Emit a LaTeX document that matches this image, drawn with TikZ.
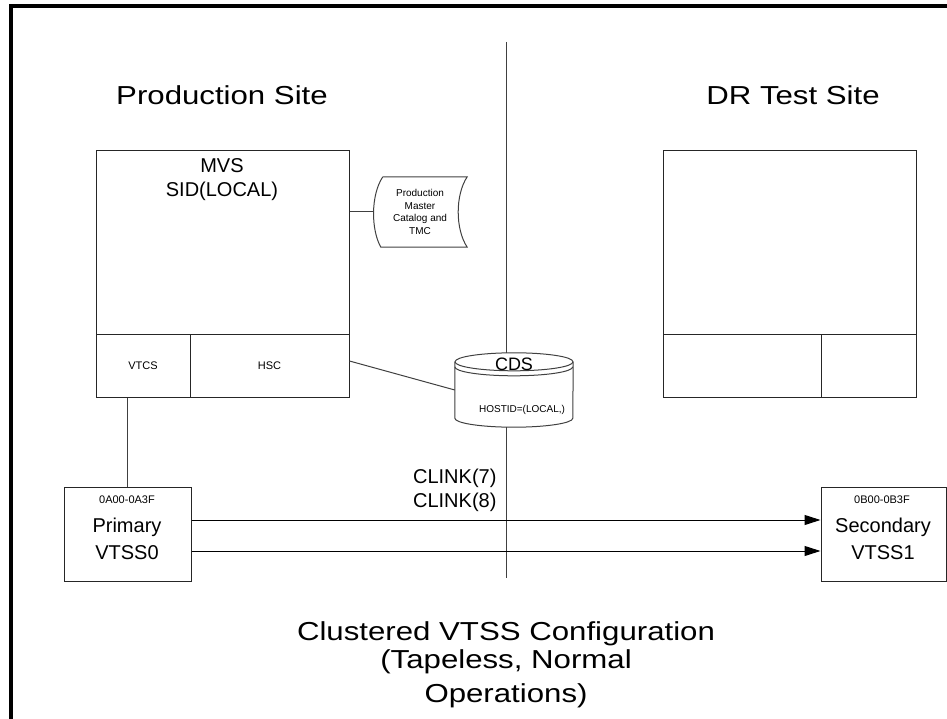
\documentclass[tikz,border=0pt]{standalone}
\usepackage{fontspec}
\setmainfont{Liberation Sans}
\newfontfamily\widefont[FakeStretch=1.2]{Liberation Sans}
\usetikzlibrary{arrows.meta}
\begin{document}
\begin{tikzpicture}[x=1pt, y=-1pt,
  box/.style={draw=black!85, line width=1pt, inner sep=0pt},
  site/.style={font=\widefont\fontsize{26}{28}\selectfont},
  big/.style={font=\fontsize{20}{24}\selectfont},
  small/.style={font=\fontsize{11}{13}\selectfont},
  wire/.style={draw=black!75, line width=1pt},
  link/.style={draw=black, line width=1pt, -{Triangle[length=16pt,width=10pt]}}
]
  \useasboundingbox (0,0) rectangle (947,719);
  \draw[line width=4pt] (947,6) -| (11,719);

  %-- Sites
  \node[site] (prod) at (222,95) {Production Site};
  \node[site] (dr)   at (793,95) {DR Test Site};

  %-- Production host
  \node[box, minimum width=253pt, minimum height=246pt] (mvs) at (222.5,274) {};
  \node[big]   (mvsname) at (222,166) {MVS};
  \node[big]   (mvssid)  at (222,191) {SID(LOCAL)};
  \node[box, small, minimum width=94pt,  minimum height=63pt] (vtcs) at (143,365.5)   {VTCS};
  \node[box, small, minimum width=159pt, minimum height=63pt] (hsc)  at (269.5,365.5) {HSC};

  %-- DR host
  \node[box, minimum width=253pt, minimum height=246pt] (drhost) at (789.5,274) {};
  \node[box, minimum width=158pt, minimum height=63pt] (drleft)  at (742,365.5)   {};
  \node[box, minimum width=95pt,  minimum height=63pt] (drright) at (868.5,365.5) {};

  %-- Catalog
  \node[minimum width=94pt, minimum height=70pt, inner sep=0pt, align=center,
        font=\fontsize{10}{12.5}\selectfont] (cat) at (420,212)
        {Production\\Master\\Catalog and\\TMC};
  \draw[wire] ([xshift=10pt]cat.north west) -- (cat.north east)
    .. controls ([shift={(-12,18)}]cat.north east) and ([shift={(-12,-18)}]cat.south east) .. (cat.south east)
    -- ([xshift=8pt]cat.south west)
    .. controls ([shift={(-2,-18)}]cat.south west) and ([shift={(-2,18)}]cat.north west) .. ([xshift=10pt]cat.north west);

  %-- CDS
  \node[minimum width=118pt, minimum height=74pt, inner sep=0pt] (cds) at (514,390) {};
  \draw[wire, fill=white] ([yshift=-9pt]cds.north west) -- ([yshift=9pt]cds.south west)
    arc[start angle=180, end angle=360, x radius=59pt, y radius=9pt]
    -- ([yshift=-9pt]cds.north east);
  \draw[wire] ([yshift=-9pt]cds.north) ellipse[x radius=59pt, y radius=9pt];
  \draw[wire] ([yshift=-14pt]cds.north west) arc[start angle=180, end angle=360, x radius=59pt, y radius=9pt];
  \node[font=\fontsize{18}{20}\selectfont] (cdsname) at (514,364) {CDS};
  \node[font=\fontsize{10}{12}\selectfont] (hostid)  at (522,410) {HOSTID=(LOCAL,)};

  %-- VTSS
  \node[box, minimum width=127pt, minimum height=94pt] (vtss0) at (127.5,534) {};
  \node[small] (range0) at (127,500) {0A00-0A3F};
  \node[big]   (prim)   at (127,527) {Primary};
  \node[big]   (name0)  at (127,553) {VTSS0};
  \node[box, minimum width=125pt, minimum height=94pt] (vtss1) at (883.5,534) {};
  \node[small] (range1) at (882,500) {0B00-0B3F};
  \node[big]   (sec)    at (883,527) {Secondary};
  \node[big]   (name1)  at (883,553) {VTSS1};

  %-- Divider
  \coordinate (divtop) at (506,42);
  \coordinate (divbot) at (506,578);
  \draw[wire] (divtop) -- (divtop |- cds.north);
  \draw[wire] (divbot |- cds.south) -- (divbot);

  %-- Connectors
  \draw[wire] (mvs.east |- cat.west) -- (cat.west);
  \draw[wire] ([yshift=4.5pt]hsc.east) -- (cds.west);
  \draw[wire] (vtss0.north) -- (vtss0.north |- vtcs.south);
  \draw[link] ([yshift=14pt]vtss0.east) -- ([yshift=14pt]vtss1.west);
  \draw[link] ([yshift=-17pt]vtss0.east) -- ([yshift=-17pt]vtss1.west);
  \node[big, align=right, anchor=east] (clink) at (500,490) {CLINK(7)\\CLINK(8)};

  %-- Title
  \node[site, align=center] (title) at (506,665)
    {Clustered VTSS Configuration\\(Tapeless, Normal\\[6pt]Operations)};
\end{tikzpicture}
\end{document}
